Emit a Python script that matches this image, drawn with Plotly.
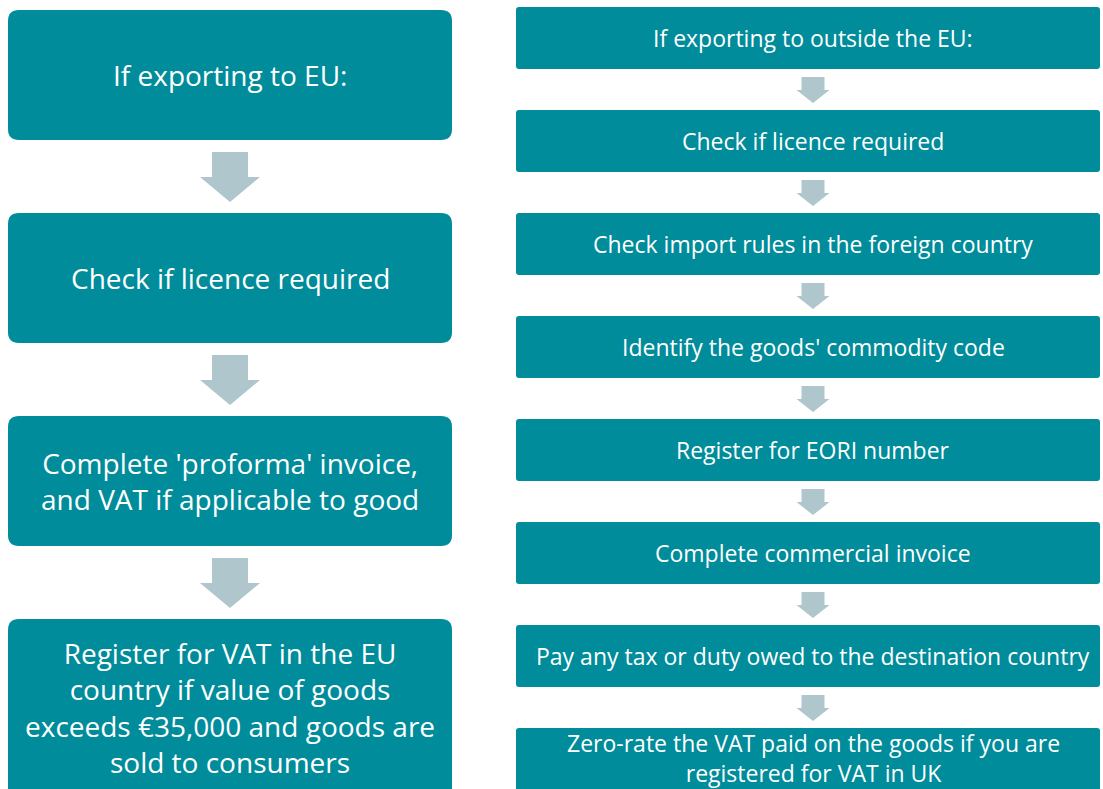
import plotly.graph_objects as go

W, H = 1103, 789

# ---- data ----
eu_steps = [
    "If exporting to EU:",
    "Check if licence required",
    "Complete 'proforma' invoice,<br>and VAT if applicable to good",
    "Register for VAT in the EU<br>country if value of goods<br>exceeds €35,000 and goods are<br>sold to consumers",
]
non_eu_steps = [
    "If exporting to outside the EU:",
    "Check if licence required",
    "Check import rules in the foreign country",
    "Identify the goods' commodity code",
    "Register for EORI number",
    "Complete commercial invoice",
    "Pay any tax or duty owed to the destination country",
    "Zero-rate the VAT paid on the goods if you are<br>registered for VAT in UK",
]

TEAL = "#008C9A"
ARROW = "#AEC6CC"
FONT = "Open Sans"

fig = go.Figure()
shapes = []
annotations = []


def rounded_rect(x0, y0, x1, y1, r):
    return (f"M {x0+r},{y0} L {x1-r},{y0} Q {x1},{y0} {x1},{y0+r} "
            f"L {x1},{y1-r} Q {x1},{y1} {x1-r},{y1} L {x0+r},{y1} "
            f"Q {x0},{y1} {x0},{y1-r} L {x0},{y0+r} Q {x0},{y0} {x0+r},{y0} Z")


def arrow(cx, y0, sw, hw, ys, y1):
    return (f"M {cx-sw/2},{y0} L {cx+sw/2},{y0} L {cx+sw/2},{ys} L {cx+hw/2},{ys} "
            f"L {cx},{y1} L {cx-hw/2},{ys} L {cx-sw/2},{ys} Z")


# left column
Lx0, Lx1, Ltop, Lh, Lstep = 8, 452, 10, 130, 203
Lcx = (Lx0 + Lx1) / 2
for i, txt in enumerate(eu_steps):
    y0 = Ltop + i * Lstep
    h = Lh if i < len(eu_steps) - 1 else 200
    shapes.append(dict(type="path", path=rounded_rect(Lx0, y0, Lx1, y0 + h, 11),
                       fillcolor=TEAL, line=dict(width=0), layer="below"))
    cy = y0 + Lh / 2 if i < len(eu_steps) - 1 else 707
    annotations.append(dict(x=Lcx, y=cy, text=txt, showarrow=False,
                            xanchor="center", yanchor="middle",
                            font=dict(family=FONT, size=28, color="white")))
    if i < len(eu_steps) - 1:
        shapes.append(dict(type="path",
                           path=arrow(Lcx, y0 + Lh + 12, 36, 60, y0 + Lh + 37, y0 + Lh + 62),
                           fillcolor=ARROW, line=dict(width=0)))

# right column
Rx0, Rx1, Rtop, Rh, Rstep = 516, 1100, 7, 62, 103
Rcx = 813
for i, txt in enumerate(non_eu_steps):
    y0 = Rtop + i * Rstep
    h = Rh if i < len(non_eu_steps) - 1 else 80
    shapes.append(dict(type="path", path=rounded_rect(Rx0, y0, Rx1, y0 + h, 3),
                       fillcolor=TEAL, line=dict(width=0), layer="below"))
    annotations.append(dict(x=Rcx, y=y0 + Rh / 2 + (0 if i < len(non_eu_steps) - 1 else -1),
                            text=txt, showarrow=False,
                            xanchor="center", yanchor="middle",
                            font=dict(family=FONT, size=23, color="white")))
    if i < len(non_eu_steps) - 1:
        shapes.append(dict(type="path",
                           path=arrow(Rcx, y0 + Rh + 8, 23, 33, y0 + Rh + 21, y0 + Rh + 34),
                           fillcolor=ARROW, line=dict(width=0)))

fig.update_layout(
    width=W, height=H,
    margin=dict(l=0, r=0, t=0, b=0),
    paper_bgcolor="white", plot_bgcolor="white",
    xaxis=dict(range=[0, W], visible=False, fixedrange=True),
    yaxis=dict(range=[H, 0], visible=False, fixedrange=True),
    shapes=shapes, annotations=annotations, showlegend=False,
)
fig.write_html(
    "out.html",
    config={"displayModeBar": False},
    post_script="document.body.style.margin='0';document.body.style.overflow='hidden';",
)
